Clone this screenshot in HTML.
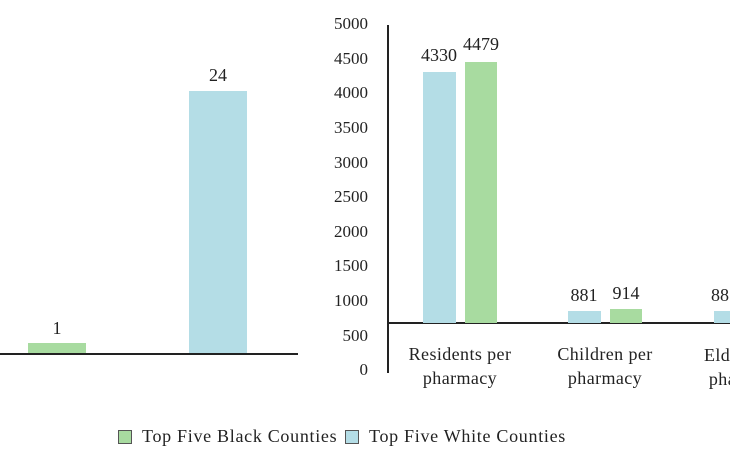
<!DOCTYPE html>
<html><head><style>
body{margin:0;width:730px;height:450px;background:#fff;overflow:hidden;position:relative;font-family:"Liberation Serif",serif;color:#222}
.a{position:absolute}
.t{position:absolute;font-size:17px;line-height:17px;white-space:nowrap}
.y{right:362px;text-align:right}
.c{text-align:center;transform:translateX(-50%)}
.w{letter-spacing:0.4px;font-size:18px}
</style></head><body>
<div class="a" style="left:0;top:353px;width:298px;height:1.5px;background:#222"></div>
<div class="a" style="left:28px;top:343px;width:58px;height:10px;background:#a8dba0"></div>
<div class="a" style="left:189px;top:91px;width:58px;height:262px;background:#b4dde6"></div>
<div class="t c" style="left:57px;top:320px;font-size:18px">1</div>
<div class="t c" style="left:218px;top:67px;font-size:18px">24</div>

<div class="a" style="left:387px;top:25px;width:1.5px;height:348px;background:#222"></div>
<div class="a" style="left:387px;top:322px;width:343px;height:1.5px;background:#222"></div>
<div class="t y" style="top:15px">5000</div>
<div class="t y" style="top:50px">4500</div>
<div class="t y" style="top:84px">4000</div>
<div class="t y" style="top:119px">3500</div>
<div class="t y" style="top:154px">3000</div>
<div class="t y" style="top:188px">2500</div>
<div class="t y" style="top:223px">2000</div>
<div class="t y" style="top:257px">1500</div>
<div class="t y" style="top:292px">1000</div>
<div class="t y" style="top:327px">500</div>
<div class="t y" style="top:361px">0</div>

<div class="a" style="left:423px;top:72px;width:33px;height:251px;background:#b4dde6"></div>
<div class="a" style="left:465px;top:62px;width:32px;height:261px;background:#a8dba0"></div>
<div class="a" style="left:568px;top:311px;width:33px;height:12px;background:#b4dde6"></div>
<div class="a" style="left:610px;top:309px;width:32px;height:14px;background:#a8dba0"></div>
<div class="a" style="left:714px;top:311px;width:16px;height:12px;background:#b4dde6"></div>
<div class="t c" style="left:439px;top:47px;font-size:18px">4330</div>
<div class="t c" style="left:481px;top:36px;font-size:18px">4479</div>
<div class="t c" style="left:584px;top:287px;font-size:18px">881</div>
<div class="t c" style="left:626px;top:285px;font-size:18px">914</div>
<div class="a" style="left:690px;top:280px;width:40px;height:110px;overflow:hidden">
<div class="t" style="left:21px;top:7px;font-size:18px">881</div>
<div class="t w" style="left:14px;top:63px;line-height:24px">Elderly per<br>&nbsp;pharmacy</div>
</div>
<div class="t c w" style="left:460px;top:342px;line-height:24px;text-align:center">Residents per<br>pharmacy</div>
<div class="t c w" style="left:605px;top:342px;line-height:24px;text-align:center">Children per<br>pharmacy</div>

<div class="a" style="left:118px;top:430px;width:12px;height:12px;background:#a8dba0;border:1px solid #555"></div>
<div class="t" style="left:142px;top:428px;font-size:18px;letter-spacing:0.7px">Top Five Black Counties</div>
<div class="a" style="left:345px;top:430px;width:12px;height:12px;background:#b4dde6;border:1px solid #555"></div>
<div class="t" style="left:369px;top:428px;font-size:18px;letter-spacing:0.7px">Top Five White Counties</div>
</body></html>
